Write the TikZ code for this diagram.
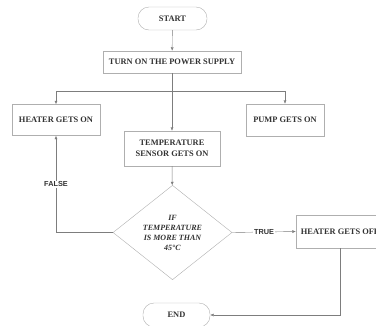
\documentclass[tikz,border=0pt]{standalone}
\usepackage{fontspec}
\setmainfont{Liberation Serif}
\newfontfamily\labelfont{Liberation Sans}
\usetikzlibrary{shapes.geometric,arrows.meta}
\definecolor{linegray}{RGB}{125,125,125}
\definecolor{boxgray}{RGB}{175,175,175}
\definecolor{inkgray}{RGB}{50,50,50}
\tikzset{
  box/.style={draw=boxgray,rectangle,text=inkgray,align=center,inner sep=0pt,
    font=\bfseries\fontsize{8.4}{10.5}\selectfont},
  term/.style={box,rounded corners=11pt},
  decision/.style={draw=boxgray,diamond,text=inkgray,align=center,inner sep=0pt,
    font=\bfseries\itshape\fontsize{8}{10}\selectfont},
  flow/.style={draw=linegray,-{Latex[length=3.5pt,width=3pt]}},
  branch/.style={fill=white,inner sep=1pt,text=inkgray,font=\labelfont\bfseries\fontsize{7.3}{8}\selectfont}
}
\begin{document}
\begin{tikzpicture}[x=1pt,y=-1pt]
    \useasboundingbox (0,0) rectangle (376,325);

    \path (172.5,18.5) node[term,minimum width=69pt,minimum height=23pt] (start) {START};
    \path (172,62) node[box,minimum width=138pt,minimum height=22pt] (power) {TURN ON THE POWER SUPPLY};
    \coordinate (split) at (172,91);

    \path (56,120) node[box,minimum width=88pt,minimum height=31pt] (heaton) {HEATER GETS ON};
    \path (285,120) node[box,minimum width=78pt,minimum height=32pt] (pump) {PUMP GETS ON};
    \path (172,148.5) node[box,minimum width=96pt,minimum height=35pt] (sensor) {TEMPERATURE\\SENSOR GETS ON};

    \path (172.5,232.5) node[decision,minimum width=119pt,minimum height=75pt] (check)
      {IF\\TEMPERATURE\\IS MORE THAN\\45°C};
    \path (340,231.5) node[box,minimum width=88pt,minimum height=33pt] (heatoff) {HEATER GETS OFF};
    \path (176.5,315) node[term,minimum width=67pt,minimum height=24pt] (end) {END};

    \draw[flow] (start) -- (power);
    \draw[flow] (power) -- (sensor);
    \draw[flow] (split) -| (heaton.north);
    \draw[flow] (split) -| (pump.north);
    \draw[flow] (sensor) -- (check);

    \draw[flow] (check.west) -| node[branch,pos=0.75] {FALSE} (heaton.south);
    \draw[flow] (check.east) -- node[branch] {TRUE} (heatoff.west);
    \draw[flow] (heatoff.south) |- (end.east);
\end{tikzpicture}
\end{document}
